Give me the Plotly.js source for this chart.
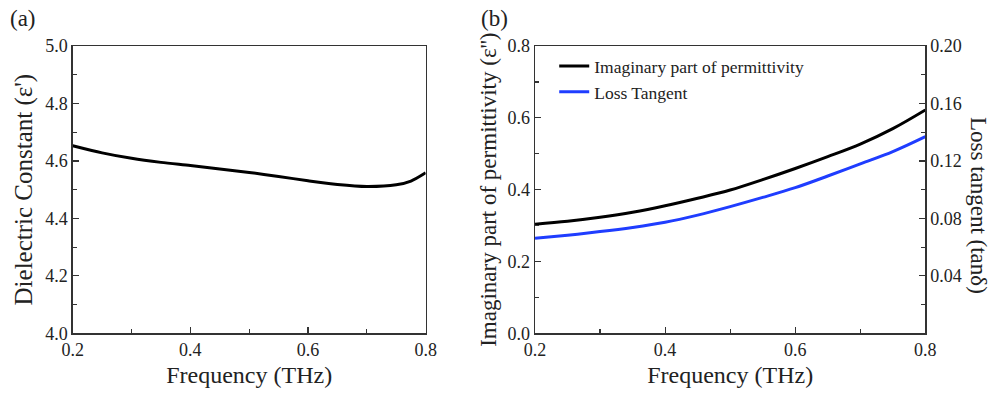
<!DOCTYPE html>
<html><head><meta charset="utf-8">
<script src="https://cdn.plot.ly/plotly-3.0.1.min.js"></script>
<style>body{margin:0;background:#fff}#plot{width:995px;height:395px}</style>
</head><body><div id="plot"></div>
<script>
const freqA = [0.2, 0.25, 0.3, 0.35, 0.4, 0.45, 0.5, 0.55, 0.6, 0.65, 0.7, 0.75, 0.775, 0.8];
const dielectric = [4.653, 4.628, 4.609, 4.595, 4.584, 4.572, 4.560, 4.546, 4.531, 4.518, 4.511, 4.517, 4.530, 4.559];
const freqB = [0.2, 0.25, 0.3, 0.35, 0.4, 0.45, 0.5, 0.55, 0.6, 0.65, 0.7, 0.75, 0.8];
const imagPerm = [0.304, 0.312, 0.323, 0.337, 0.355, 0.376, 0.399, 0.428, 0.459, 0.492, 0.527, 0.570, 0.622];
const lossTan = [0.0661, 0.0683, 0.0708, 0.0737, 0.0773, 0.0823, 0.0882, 0.0946, 0.1014, 0.1095, 0.1180, 0.1265, 0.1369];
const xTicks = [0.2, 0.4, 0.6, 0.8];
const yTicksA = [4.0, 4.2, 4.4, 4.6, 4.8, 5.0];
const yTicksB = [0.0, 0.2, 0.4, 0.6, 0.8];
const yTicksC = [0.04, 0.08, 0.12, 0.16, 0.20];

const F = "'Liberation Serif', 'Times New Roman', serif";
const tickFont = {family: F, size: 18, color: '#222'};
const titleFont = {family: F, size: 24, color: '#222'};
const axBase = {showline: true, linecolor: '#333', linewidth: 1.3, ticks: 'inside', ticklen: 6, tickwidth: 1.2, tickcolor: '#333',
  showgrid: false, zeroline: false, tickfont: tickFont, automargin: false};

const traces = [
  {x: freqA, y: dielectric, xaxis: 'x', yaxis: 'y', mode: 'lines', line: {color: '#000', width: 3, shape: 'spline', smoothing: 0.8}, showlegend: false},
  {x: freqB, y: imagPerm, xaxis: 'x2', yaxis: 'y2', mode: 'lines', name: 'Imaginary part of permittivity', line: {color: '#000', width: 3, shape: 'spline'}},
  {x: freqB, y: lossTan, xaxis: 'x2', yaxis: 'y3', mode: 'lines', name: 'Loss Tangent', line: {color: '#1f3dff', width: 3, shape: 'spline'}}
];

const layout = {
  width: 995, height: 395, margin: {l: 0, r: 0, t: 0, b: 0},
  paper_bgcolor: '#fff', plot_bgcolor: '#fff', font: {family: F},
  xaxis: Object.assign({}, axBase, {domain: [0.0731, 0.4278], range: [0.2, 0.8], tickvals: xTicks, ticktext: xTicks.map(v => v.toFixed(1)), mirror: true,
    minor: {dtick: 0.1, tick0: 0.2, ticks: 'inside', ticklen: 4, tickcolor: '#333'},
    title: {text: 'Frequency (THz)', font: titleFont, standoff: 7}, anchor: 'y'}),
  yaxis: Object.assign({}, axBase, {domain: [0.1562, 0.8835], range: [4.0, 5.0], tickvals: yTicksA, ticktext: yTicksA.map(v => v.toFixed(1)), mirror: true,
    minor: {dtick: 0.1, tick0: 4.0, ticks: 'inside', ticklen: 4, tickcolor: '#333'},
    title: {text: "Dielectric Constant (ε')", font: {family: F, size: 25, color: '#222'}, standoff: 5}, anchor: 'x'}),
  xaxis2: Object.assign({}, axBase, {domain: [0.5377, 0.930], range: [0.2, 0.8], tickvals: xTicks, ticktext: xTicks.map(v => v.toFixed(1)), mirror: true,
    minor: {dtick: 0.1, tick0: 0.2, ticks: 'inside', ticklen: 4, tickcolor: '#333'},
    title: {text: 'Frequency (THz)', font: titleFont, standoff: 7}, anchor: 'y2'}),
  yaxis2: Object.assign({}, axBase, {domain: [0.1562, 0.8835], range: [0, 0.8], tickvals: yTicksB, ticktext: yTicksB.map(v => v.toFixed(1)),
    minor: {dtick: 0.1, tick0: 0, ticks: 'inside', ticklen: 4, tickcolor: '#333'},
    title: {text: "Imaginary part of permittivity (ε'')", font: {family: F, size: 23, color: '#222'}, standoff: 4}, anchor: 'x2'}),
  yaxis3: Object.assign({}, axBase, {domain: [0.1562, 0.8835], range: [0, 0.2], tickvals: yTicksC, ticktext: yTicksC.map(v => v.toFixed(2)),
    minor: {dtick: 0.02, tick0: 0, ticks: 'inside', ticklen: 4, tickcolor: '#333'},
    overlaying: 'y2', side: 'right', anchor: 'x2'}),
  legend: {x: 0.557, y: 0.878, xanchor: 'left', yanchor: 'top', bgcolor: 'rgba(0,0,0,0)', font: {family: F, size: 17.5, color: '#222'},
    tracegroupgap: 0},
  annotations: [
    {text: '(a)', xref: 'paper', yref: 'paper', x: 0.008, y: 0.99, xanchor: 'left', yanchor: 'top', showarrow: false, font: {family: F, size: 23, color: '#222'}},
    {text: '(b)', xref: 'paper', yref: 'paper', x: 0.481, y: 0.99, xanchor: 'left', yanchor: 'top', showarrow: false, font: {family: F, size: 23, color: '#222'}},
    {text: 'Loss tangent (tanδ)', xref: 'paper', yref: 'paper', x: 0.984, y: 0.481, xanchor: 'center', yanchor: 'middle', textangle: 90, showarrow: false, font: {family: F, size: 23, color: '#222'}}
  ]
};
Plotly.newPlot('plot', traces, layout, {displayModeBar: false, staticPlot: true});
</script></body></html>
